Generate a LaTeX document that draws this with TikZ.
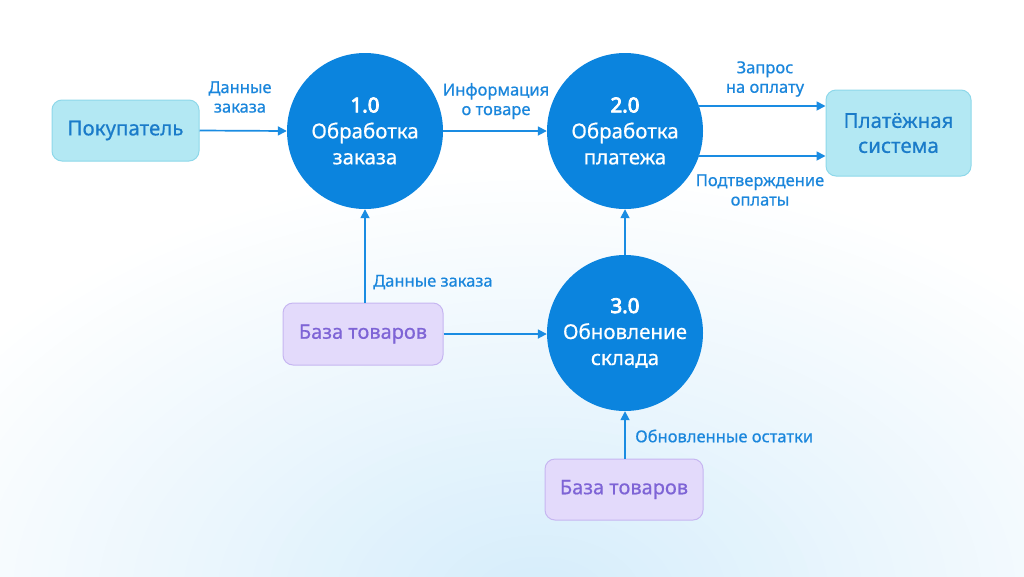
\documentclass[tikz,border=0pt]{standalone}
\usepackage{fontspec}
\setmainfont{Noto Sans}
\newfontface\medf{Noto Sans}[FakeBold=0.6]
\newfontface\boldf{Noto Sans}[FakeBold=4]
\usetikzlibrary{arrows.meta}
\definecolor{procblue}{HTML}{0B84DE}
\definecolor{arrowblue}{HTML}{1A8CE2}
\definecolor{labelblue}{HTML}{1A86DC}
\definecolor{cyanfill}{HTML}{B3E8F3}
\definecolor{cyanline}{HTML}{8ED8EA}
\definecolor{cyantext}{HTML}{1A7BC9}
\definecolor{purpfill}{HTML}{E3DAFB}
\definecolor{purpline}{HTML}{C6B6F1}
\definecolor{purptext}{HTML}{7E64D6}
\definecolor{bglow}{HTML}{D6EDFB}
\tikzset{
  proc/.style={circle, fill=procblue, draw=none, minimum size=156pt, inner sep=0pt,
    text=white, align=center, font=\medf\fontsize{20.5}{26}\selectfont},
  extbox/.style={rectangle, rounded corners=10pt, fill=cyanfill, draw=cyanline, line width=1pt,
    text=cyantext, align=center, font=\medf\fontsize{20.5}{25}\selectfont},
  storebox/.style={rectangle, rounded corners=10pt, fill=purpfill, draw=purpline, line width=1pt,
    text=purptext, align=center, font=\medf\fontsize{20}{24}\selectfont},
  flow/.style={draw=arrowblue, line width=1.7pt, -{Triangle[length=9pt,width=9pt]}},
  lbl/.style={text=labelblue, align=center, font=\medf\fontsize{16.5}{19.5}\selectfont, inner sep=0pt}
}
\begin{document}
\begin{tikzpicture}[x=1pt,y=-1pt]
\useasboundingbox (0,0) rectangle (1024,576);
\fill[white] (0,0) rectangle (1024,576);
\begin{scope}
\clip (0,0) rectangle (1024,576);
\foreach \i in {1,...,40}{
  \pgfmathsetmacro{\rr}{1-(\i-1)/40}
  \pgfmathtruncatemacro{\pp}{100*\i/40}
  \fill[bglow!\pp!white] (540,600) ellipse [x radius={680*\rr}, y radius={430*\rr}];
}
\end{scope}

% external entities
\node[extbox, minimum width=147pt, minimum height=61pt] (cust) at (125.5,130.5) {Покупатель};
\node[extbox, minimum width=145pt, minimum height=86pt] (pay) at (898.5,133) {Платёжная\\система};

% processes
\node[proc] (p1) at (365,131) {{\boldf 1.0}\\Обработка\\заказа};
\node[proc] (p2) at (625,131) {{\boldf 2.0}\\Обработка\\платежа};
\node[proc] (p3) at (625,333) {{\boldf 3.0}\\Обновление\\склада};

% stores
\node[storebox, minimum width=160pt, minimum height=62pt] (db1) at (363,334) {База товаров};
\node[storebox, minimum width=158pt, minimum height=61pt] (db2) at (624,489.5) {База товаров};

% flows
\draw[flow] (cust.east) -- (p1.west);
\node[lbl] (l1) at (240,97) {Данные\\заказа};

\draw[flow] (p1.east) -- (p2.west);
\node[lbl] (l2) at (496,101) {Информация\\о товаре};

\coordinate (s1) at (698,106);
\coordinate (s2) at (698,156);
\draw[flow] (s1) -- (s1 -| pay.west);
\node[lbl] (l3) at (765,79) {Запрос\\на оплату};

\draw[flow] (s2) -- (s2 -| pay.west);
\node[lbl] (l4) at (760,190) {Подтверждение\\оплаты};

\draw[flow] (db1.north -| p1.south) -- (p1.south);
\node[lbl, anchor=west] (l5) at (373,282) {Данные заказа};

\draw[flow] (db1.east) -- (db1.east -| p3.west);

\draw[flow] (p3.north) -- (p2.south);

\draw[flow] (db2.north -| p3.south) -- (p3.south);
\node[lbl, anchor=west] (l6) at (635,436) {Обновленные остатки};
\end{tikzpicture}
\end{document}
